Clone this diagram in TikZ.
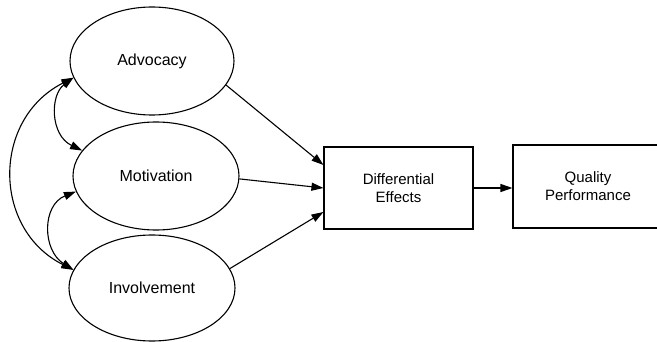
\documentclass[tikz,border=0pt]{standalone}
\usepackage{fontspec}
\setmainfont{Liberation Sans}
\usetikzlibrary{shapes.geometric,arrows.meta}
\begin{document}
\begin{tikzpicture}[x=1pt,y=-1pt,
  line width=1.1pt,
  tip/.style={-{Triangle[length=12pt,width=8pt]}},
  dtip/.style={{Triangle[length=12pt,width=8pt]}-{Triangle[length=12pt,width=8pt]}},
  oval/.style={draw,ellipse,inner sep=0pt,font=\fontsize{16}{19}\selectfont},
  box/.style={draw,rectangle,inner sep=0pt,align=center,font=\fontsize{15}{18}\selectfont}]
\useasboundingbox (0,0) rectangle (657,342);
\clip (0,0) rectangle (657,342);
\node[oval,minimum width=164pt,minimum height=108pt] (Adv) at (152,61) {Advocacy};
\node[oval,minimum width=166pt,minimum height=108pt] (Mot) at (156,176) {Motivation};
\node[oval,minimum width=166pt,minimum height=106pt] (Inv) at (152,288) {Involvement};
\node[box,minimum width=149pt,minimum height=82pt] (Diff) at (398.5,188) {Differential\\Effects};
\node[box,minimum width=150pt,minimum height=83pt] (Qual) at (588,186.5) {Quality\\Performance};
\draw[tip] (Adv.-18) -- ([yshift=23pt]Diff.west);
\draw[tip] (Mot.-2) -- (Diff.west);
\draw[tip] (Inv.14) -- ([yshift=-24pt]Diff.west);
\draw[tip] (Diff.east) -- (Diff.east -| Qual.west);
\draw[dtip] (Adv.192) .. controls (-8,119) and (-8,229) .. (Inv.167);
\draw[dtip] (Adv.192) .. controls (50,95) and (50,135) .. (Mot.161);
\draw[dtip] (Mot.191) .. controls (42,205) and (42,250) .. (Inv.167);
\end{tikzpicture}
\end{document}
